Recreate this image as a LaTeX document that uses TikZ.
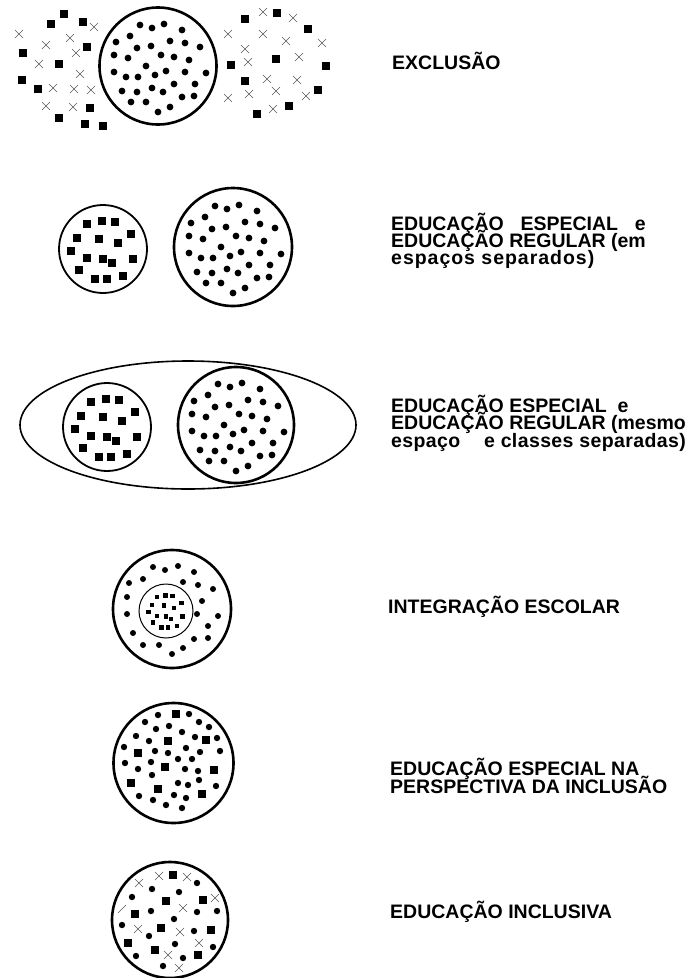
\documentclass[tikz,border=0pt]{standalone}
\usepackage{fontspec}
\setmainfont{Liberation Sans}
\usepackage{calc}
\usetikzlibrary{positioning}

\newcommand{\capfont}{\bfseries\fontsize{19.5}{17.2}\selectfont\lineskiplimit=-100pt\relax}
% dot and square patterns, relative to circle centre
\newcommand{\regularlist}{-18/-41,-6/-38,6/-42,24/-36,-28/-30,-42/-24,-21/-18,-7/-20,12/-25,27/-23,42/-19,-44/-11,-30/-8,3/-11,16/-9,31/-6,-12/0,-44/6,-32/11,-20/11,-3/9,8/5,27/6,48/7,-36/25,-21/26,-6/22,5/26,16/18,37/18,-27/36,-12/36,12/41,24/31,36/30,0/46}
\newcommand{\speciallist}{-16/-25,-1/-28,12/-27,28/-15,-26/-11,-4/-10,15/-6,-32/2,-16/9,0/10,9/14,30/10,-24/21,-8/30,4/30,20/27}

\begin{document}
\begin{tikzpicture}[x=1pt,y=-1pt,line cap=round,
  ring/.style={draw=black,line width=2.6pt},
  thinring/.style={draw=black,line width=1.8pt},
  xline/.style={draw=black!65,line width=.6pt},
  caption/.style={anchor=base west,inner sep=0pt,align=left,font=\capfont},
  xmark/.pic={\draw[xline] (-4,-4)--(4,4) (-4,4)--(4,-4);}]
 \useasboundingbox (0,0) rectangle (692,978);
 \fill[white] (0,0) rectangle (692,978);

 % exclusao
 \draw[ring] (158,66) circle (58.5pt);
 \begin{scope}[shift={(158,66)}]
  \foreach \a/\b in \regularlist \fill (\a,\b) circle (3.4pt);
 \end{scope}
 \foreach \a/\b in {64/14,51/24,83/22,23/53,59/64,87/47,22/80,38/89,90/108,59/118,85/124,103/126,
   245/19,277/13,308/29,276/59,231/65,326/66,245/81,318/90,289/106,257/114}
   \fill (\a-3.8,\b-3.8) rectangle ++(7.6,7.6);
 \foreach \a/\b in {19/34,46/45,70/38,94/27,76/53,39/64,80/74,53/88,74/89,91/90,46/106,73/107,
   263/12,293/18,228/34,263/34,286/41,322/43,245/49,248/62,299/57,267/79,297/80,249/94,276/91,306/96,228/98,273/109}
   \pic at (\a,\b) {xmark};
 \node[caption] (exclusao) at (392,69) {EXCLUSÃO};

 % separados (base = last line)
 \draw[thinring] (103,249) circle (44pt);
 \draw[ring] (233,247) circle (59pt);
 \begin{scope}[shift={(103,249)}]
  \foreach \a/\b in \speciallist \fill (\a-4,\b-4) rectangle ++(8,8);
 \end{scope}
 \begin{scope}[shift={(233,247)}]
  \foreach \a/\b in \regularlist \fill (\a,\b) circle (3.4pt);
 \end{scope}
 \node[caption] (separados) at (391,264.5)
   {\makebox[\widthof{EDUCAÇÃO REGULAR (em}][s]{EDUCAÇÃO ESPECIAL e}\\
    EDUCAÇÃO REGULAR (em\\
    {\addfontfeature{LetterSpace=5}espaços separados)}};

 % mesmo espaco
 \draw[line width=1.6pt] (188,425) ellipse (168pt and 64pt);
 \draw[thinring] (107,427) circle (44pt);
 \draw[ring] (236,425) circle (58pt);
 \begin{scope}[shift={(107,427)}]
  \foreach \a/\b in \speciallist \fill (\a-4,\b-4) rectangle ++(8,8);
 \end{scope}
 \begin{scope}[shift={(236,425)}]
  \foreach \a/\b in \regularlist \fill (\a,\b) circle (3.4pt);
 \end{scope}
 \node[caption] (mesmo) at (391,447)
   {EDUCAÇÃO ESPECIAL~ e\\
    EDUCAÇÃO REGULAR (mesmo\\
    \makebox[\widthof{EDUCAÇÃO REGULAR (mesmo}][l]{\addfontfeature{LetterSpace=2}espaço\hfill e classes separadas)}};

 % integracao
 \draw[ring] (172,609) circle (59pt);
 \draw[line width=1pt] (166,611) circle (27pt);
 \foreach \a/\b in {153/567,165/570,178/566,194/572,143/579,129/583,183/582,198/585,213/589,127/597,202/601,
   127/614,197/614,218/616,208/626,133/633,194/639,208/638,143/645,159/645,183/648,172/654}
   \fill (\a,\b) circle (3pt);
 \begin{scope}[shift={(166,611)},scale=.55]
  \foreach \a/\b in \speciallist \fill (\a-4,\b-4) rectangle ++(8,8);
 \end{scope}
 \node[caption] (integ) at (388,613) {INTEGRAÇÃO ESCOLAR};

 % perspectiva da inclusao
 \draw[ring] (173.5,763) circle (60pt);
 \foreach \a/\b in {176/714,168/741,206/740,138/753,165/767,214/770,131/783,158/789,202/794}
   \fill (\a-4,\b-4) rectangle ++(8,8);
 \foreach \a/\b in {158/715,189/714,145/722,199/722,156/729,169/726,209/727,182/732,136/736,149/741,195/737,217/738,
   124/747,155/751,168/753,186/748,200/752,220/751,151/762,178/759,192/759,125/763,138/769,185/769,198/771,
   152/775,199/780,178/783,188/785,216/786,139/796,153/800,174/795,186/798,166/805,182/808}
   \fill (\a,\b) circle (3.2pt);
 \node[caption] (perspectiva) at (390,793) {EDUCAÇÃO ESPECIAL NA\\PERSPECTIVA DA INCLUSÃO};

 % inclusiva
 \draw[ring] (170,920) circle (58pt);
 \foreach \a/\b in {173/875,166/901,203/900,135/914,161/928,211/930,128/943,155/950,198/955}
   \fill (\a-4,\b-4) rectangle ++(8,8);
 \foreach \a/\b in {197/883,152/889,179/892,132/897,151/911,197/912,217/911,174/919,122/925,149/936,
   194/931,213/947,175/944,136/956,183/958,163/966}
   \fill (\a,\b) circle (3.2pt);
 \foreach \a/\b in {159/876,187/877,139/883,215/898,183/908,138/929,180/932,199/943,168/955,179/968}
   \pic at (\a,\b) {xmark};
 \draw[xline] (118,913)--(126,905);
 \node[caption] (inclu) at (390,918) {EDUCAÇÃO INCLUSIVA};
\end{tikzpicture}
\end{document}
